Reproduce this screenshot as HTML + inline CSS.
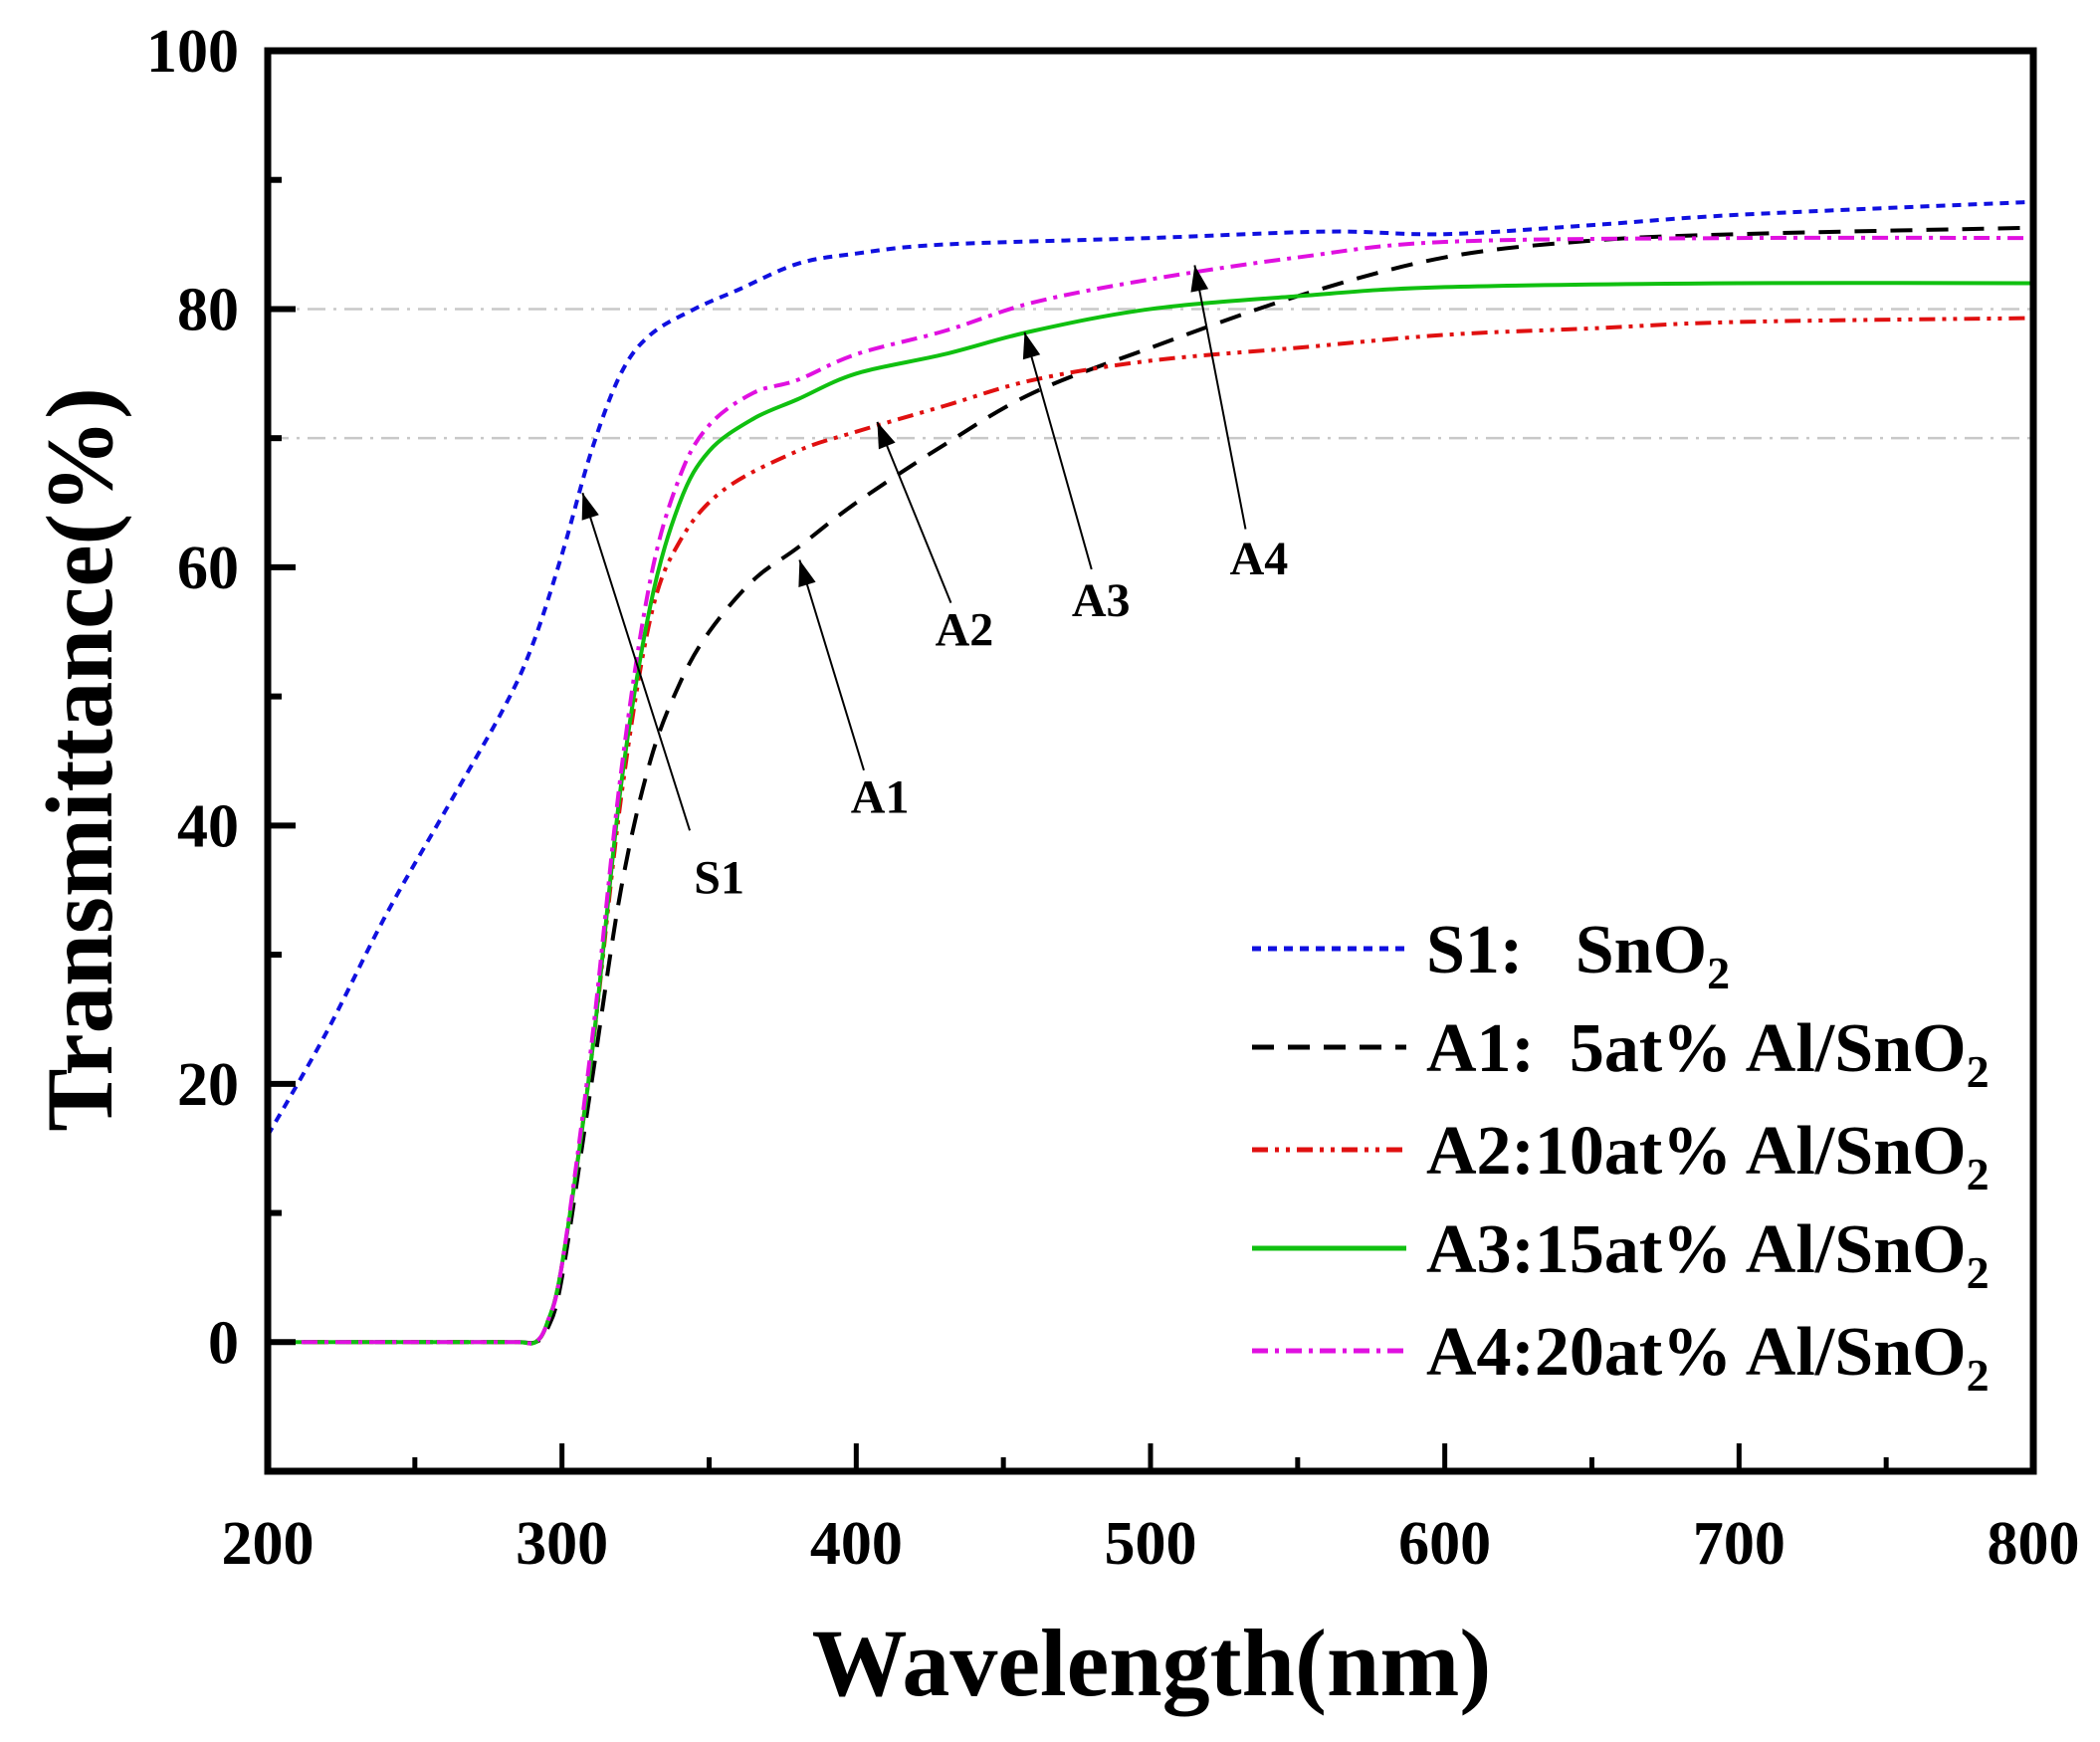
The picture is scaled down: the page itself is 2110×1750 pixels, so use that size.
<!DOCTYPE html>
<html><head><meta charset="utf-8"><style>
html,body{margin:0;padding:0;background:#fff;}
svg{display:block;}
text{font-family:"Liberation Serif",serif;font-weight:bold;fill:#000;white-space:pre;}
</style></head><body>
<svg id="s" width="2110" height="1750" viewBox="0 0 2110 1750" xmlns="http://www.w3.org/2000/svg">
<g id="grid"></g>
<g id="curves"></g>
<g id="ticks"></g>
<rect x="269" y="51" width="1774" height="1427" fill="none" stroke="#000" stroke-width="7"/>
<g id="labels" font-size="62"></g>
<text x="1157" y="1703" font-size="96" text-anchor="middle">Wavelength(nm)</text>
<text transform="translate(112,763) rotate(-90)" font-size="95" text-anchor="middle">Transmittance(%)</text>
<g id="arrows"></g>
<g id="legend" font-size="70"></g>
</svg>
<script>
const NS="http://www.w3.org/2000/svg";
const X=v=>269+(v-200)*1774/600, Y=v=>51+(100-v)*1427/110;
function el(p,t,a,txt){const e=document.createElementNS(NS,t);for(const k in a)e.setAttribute(k,a[k]);if(txt!=null)e.textContent=txt;document.getElementById(p).appendChild(e);return e;}
[80,70].forEach(v=>el("grid","line",{x1:272,x2:2040,y1:Y(v),y2:Y(v),stroke:"#c8c8c8","stroke-width":2.5,"stroke-dasharray":"18 8 3 8"}));
for(let v=-10;v<=100;v+=10){const maj=v%20==0;el("ticks","line",{x1:269,x2:269+(maj?28:14),y1:Y(v),y2:Y(v),stroke:"#000","stroke-width":6});
 if(maj)el("labels","text",{x:240,y:Y(v)+21,"text-anchor":"end"},v);}
for(let v=200;v<=800;v+=50){const maj=v%100==0;el("ticks","line",{x1:X(v),x2:X(v),y1:1478,y2:1478-(maj?28:14),stroke:"#000","stroke-width":5});
 if(maj)el("labels","text",{x:X(v),y:1571,"text-anchor":"middle"},v);}
function path(pts){const P=pts.map(p=>[X(p[0]),Y(p[1])]);let d="M"+P[0][0]+","+P[0][1];
 for(let i=0;i<P.length-1;i++){const p0=P[i-1]||P[i],p1=P[i],p2=P[i+1],p3=P[i+2]||p2;
 d+=` C${p1[0]+(p2[0]-p0[0])/6},${p1[1]+(p2[1]-p0[1])/6} ${p2[0]-(p3[0]-p1[0])/6},${p2[1]-(p3[1]-p1[1])/6} ${p2[0]},${p2[1]}`;}return d;}
const base=[[200,0],[240,0],[270,0],[285,0],[291,0]];
const S=[
 {c:"#1010e0",da:"9 7",w:4,d:[[200,16],[220,24],[240,33],[260,41],[280,49],[290,54],[300,61],[310,69],[320,75],[330,78],[345,80],[360,81.5],[380,83.5],[400,84.3],[430,85],[500,85.5],[560,86],[600,85.8],[650,86.5],[700,87.3],[800,88.3]]},
 {c:"#000",da:"22 14",w:4,d:[...base,[295,1],[300,5],[310,20],[320,35],[330,45],[340,51],[350,55],[365,59],[380,61.5],[400,65],[430,69.5],[460,73.5],[500,77],[550,81],[600,84],[650,85.3],[700,85.8],[800,86.3]]},
 {c:"#e01010",da:"16 7 4 7 4 7",w:4,d:[...base,[295,1.5],[300,6],[310,22],[320,42],[330,56],[340,62],[355,66],[380,69],[400,70.5],[430,72.5],[460,74.5],[500,76],[550,77],[600,78],[650,78.5],[700,79],[800,79.3]]},
 {c:"#10c010",da:"none",w:4,d:[...base,[295,1.5],[300,6],[310,22],[320,43],[330,57],[340,65],[350,69],[365,71.5],[380,73],[400,75],[430,76.5],[460,78.3],[500,80],[550,81],[600,81.7],[700,82],[800,82]]},
 {c:"#e010e0",da:"16 7 4 7",w:4,d:[...base,[295,1.5],[300,6],[310,23],[320,44],[330,59],[340,67],[350,71],[365,73.5],[380,74.5],[400,76.5],[430,78.3],[460,80.5],[500,82.3],[550,84],[600,85.2],[700,85.5],[800,85.5]]}];
S.forEach(s=>el("curves","path",{d:path(s.d),fill:"none",stroke:s.c,"stroke-width":s.w,"stroke-dasharray":s.da}));
const k=1.3457;
[["S1",537,655,515,620,435,368],["A1",657,595,645,575,597,418],["A2",720,470,710,450,655,315],["A3",822,448,815,425,765,248],["A4",940,417,930,395,892,198]].forEach(a=>{
 const [t,tx,ty,x1,y1,x2,y2]=a.map((v,i)=>i?v*k:v);
 el("arrows","text",{x:tx,y:ty+16,"font-size":48,"text-anchor":"middle"},t);
 el("arrows","line",{x1,y1,x2,y2,stroke:"#000","stroke-width":2});
 const ang=Math.atan2(y2-y1,x2-x1),L=26,W=9;
 const bx=x2-L*Math.cos(ang),by=y2-L*Math.sin(ang);
 el("arrows","polygon",{points:`${x2},${y2} ${bx+W*Math.sin(ang)},${by-W*Math.cos(ang)} ${bx-W*Math.sin(ang)},${by+W*Math.cos(ang)}`,fill:"#000"});
});
const L=["S1:   SnO","A1:  5at% Al/SnO","A2:10at% Al/SnO","A3:15at% Al/SnO","A4:20at% Al/SnO"];
const ys=[953,1052,1155,1254,1357];
S.forEach((s,i)=>{el("legend","line",{x1:1258,x2:1413,y1:ys[i],y2:ys[i],stroke:s.c,"stroke-width":5,"stroke-dasharray":s.da});
 const t=el("legend","text",{x:1433,y:ys[i]+24});t.textContent=L[i];
 const sub=document.createElementNS(NS,"tspan");sub.setAttribute("font-size","46");sub.setAttribute("dy","16");sub.textContent="2";t.appendChild(sub);});
</script>
</body></html>
